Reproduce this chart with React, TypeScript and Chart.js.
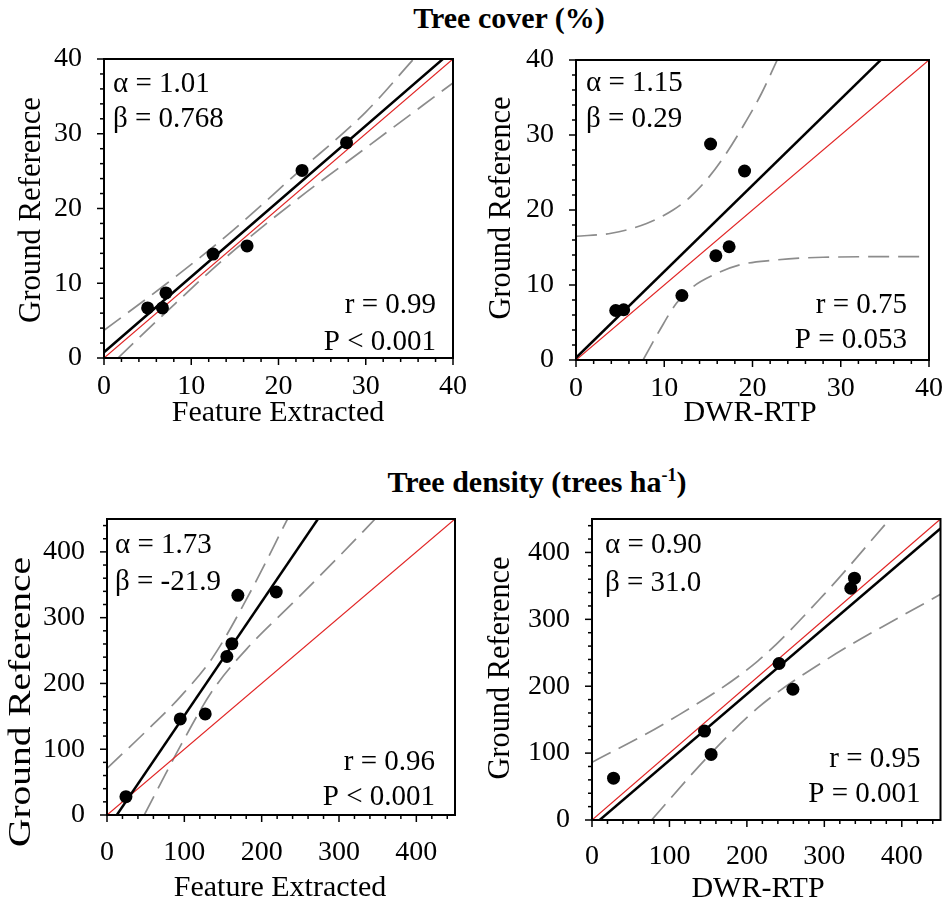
import React, { useEffect, useRef } from 'react';
import { Chart, registerables } from 'chart.js';

Chart.register(...registerables);

const FONT = '"Liberation Serif", "Times New Roman", Times, serif';

// ---------- Data ----------
// Panel 1: Tree cover, Feature Extracted
const coverFeX = [5.0, 6.7, 7.1, 12.5, 16.4, 22.7, 27.8];
const coverFeY = [6.7, 6.7, 8.7, 13.9, 15.0, 25.1, 28.8];
const coverFeFit = { slope: 1.01, intercept: 0.768 };
const coverFeUpperX = [0, 7, 14, 22, 30, 35.5];
const coverFeUpperY = [3.7, 9.8, 16.3, 24.6, 32.9, 40];
const coverFeLowerX = [1.6, 7, 14, 22, 30, 40];
const coverFeLowerY = [0, 6.0, 13.5, 21.1, 28.1, 36.8];

// Panel 2: Tree cover, DWR-RTP
const coverDwX = [4.5, 5.4, 12.0, 15.25, 15.85, 17.35, 19.1];
const coverDwY = [6.6, 6.7, 8.6, 28.8, 13.9, 15.1, 25.2];
const coverDwFit = { slope: 1.15, intercept: 0.29 };
const coverDwUpperX = [0, 4, 8, 11, 13, 15, 17, 19, 21, 22.8];
const coverDwUpperY = [16.5, 16.9, 18.2, 20.0, 21.8, 24.3, 27.5, 31.3, 35.5, 40];
const coverDwLowerX = [7.6, 9.5, 11.4, 13.3, 15.5, 18.6, 22.3, 28, 40];
const coverDwLowerY = [0, 4.0, 7.6, 9.8, 11.3, 12.7, 13.3, 13.7, 13.8];

// Panel 3: Tree density, Feature Extracted
const densFeX = [24.5, 94.7, 127, 155, 161.5, 169.2, 218.8];
const densFeY = [27.9, 146, 153.7, 241, 260.5, 334, 339];
const densFeFit = { slope: 1.73, intercept: -21.9 };
const densFeUpperX = [0, 50, 95, 137, 185, 233.4];
const densFeUpperY = [71, 126.7, 180, 240, 338.3, 450];
const densFeLowerX = [48.2, 95, 137, 185, 240, 300, 346.7];
const densFeLowerY = [0, 105, 190, 258, 322, 393, 450];

// Panel 4: Tree density, DWR-RTP
const densDwX = [27.8, 145.3, 153.8, 241.5, 259.4, 334.2, 338.9];
const densDwY = [62.5, 133, 98, 234, 195.5, 346.5, 361.5];
const densDwFit = { slope: 0.99, intercept: -9.8 };
const densDwUpperX = [0, 100, 214, 300, 384.6];
const densDwUpperY = [86.2, 148.6, 237.6, 337.7, 450];
const densDwLowerX = [76.9, 150, 214, 300, 450];
const densDwLowerY = [0, 95.2, 167.6, 237.7, 337.5];

// Axis ranges / ticks
const coverAxis = { max: 40, major: 10, minor: 2 };
const densAxis = { max: 450, major: 100, minor: 20 };

// Text
const Y_TITLE = 'Ground Reference';
const stats1 = ['α = 1.01', 'β = 0.768', 'r = 0.99', 'P < 0.001'];
const stats2 = ['α = 1.15', 'β = 0.29', 'r = 0.75', 'P = 0.053'];
const stats3 = ['α = 1.73', 'β = -21.9', 'r = 0.96', 'P < 0.001'];
const stats4 = ['α = 0.90', 'β = 31.0', 'r = 0.95', 'P = 0.001'];

const pts = (xs: number[], ys: number[]) => xs.map((x, i) => ({ x, y: ys[i] }));

type Spec = {
  canvas: { x: number; y: number; w: number; h: number };
  pad: { left: number; top: number; right: number };
  yW: number;
  xH: number;
  axis: { max: number; major: number; minor: number };
  xTitle: string;
  xt: { cx: number; cy: number };
  yt: { cx: number; cy: number; size: number; len: number };
  px: number[]; py: number[];
  fit: { slope: number; intercept: number };
  ux: number[]; uy: number[];
  lx: number[]; ly: number[];
  stats: string[];
  txt: { left: number; b1: number; b2: number; right: number; b3: number; b4: number };
  xPad: number;
};

const specs: Spec[] = [
  {
    canvas: { x: 0, y: 40, w: 470, h: 400 }, pad: { left: 17, top: 19, right: 17 }, yW: 87, xH: 82,
    axis: coverAxis, xTitle: 'Feature Extracted', xt: { cx: 278, cy: 413 }, yt: { cx: 32, cy: 210, size: 31, len: 226 },
    px: coverFeX, py: coverFeY, fit: coverFeFit, ux: coverFeUpperX, uy: coverFeUpperY, lx: coverFeLowerX, ly: coverFeLowerY,
    stats: stats1, txt: { left: 9, b1: 33, b2: 68, right: 17, b3: 45, b4: 8 }, xPad: 12,
  },
  {
    canvas: { x: 470, y: 40, w: 477, h: 400 }, pad: { left: 17, top: 20, right: 18 }, yW: 89, xH: 80,
    axis: coverAxis, xTitle: 'DWR-RTP', xt: { cx: 750, cy: 413 }, yt: { cx: 502, cy: 208, size: 31, len: 223 },
    px: coverDwX, py: coverDwY, fit: coverDwFit, ux: coverDwUpperX, uy: coverDwUpperY, lx: coverDwLowerX, ly: coverDwLowerY,
    stats: stats2, txt: { left: 10, b1: 31, b2: 67, right: 22, b3: 47, b4: 12 }, xPad: 12,
  },
  {
    canvas: { x: 0, y: 500, w: 470, h: 405 }, pad: { left: 7, top: 19, right: 15 }, yW: 100, xH: 90,
    axis: densAxis, xTitle: 'Feature Extracted', xt: { cx: 280, cy: 888 }, yt: { cx: 22, cy: 702, size: 31, len: 290 },
    px: densFeX, py: densFeY, fit: densFeFit, ux: densFeUpperX, uy: densFeUpperY, lx: densFeLowerX, ly: densFeLowerY,
    stats: stats3, txt: { left: 8, b1: 34, b2: 71, right: 20, b3: 45, b4: 10 }, xPad: 21,
  },
  {
    canvas: { x: 470, y: 500, w: 477, h: 405 }, pad: { left: 16, top: 19, right: 4 }, yW: 106, xH: 85,
    axis: densAxis, xTitle: 'DWR-RTP', xt: { cx: 758, cy: 889 }, yt: { cx: 501, cy: 668, size: 31, len: 223 },
    px: densDwX, py: densDwY, fit: densDwFit, ux: densDwUpperX, uy: densDwUpperY, lx: densDwLowerX, ly: densDwLowerY,
    stats: stats4, txt: { left: 13, b1: 34, b2: 72, right: 20, b3: 53, b4: 18 }, xPad: 20,
  },
];

const RED = 'rgb(225,35,35)';
const GREY = 'rgb(140,140,140)';

function makeConfig(s: Spec): any {
  const { max, major, minor } = s.axis;
  const fitData = [0, max].map((x) => ({ x, y: s.fit.slope * x + s.fit.intercept }));
  const curve = (data: any[], color: string, width: number, dash: number[]) => ({
    data,
    showLine: true,
    borderColor: color,
    borderWidth: width,
    borderDash: dash,
    pointRadius: 0,
    pointHoverRadius: 0,
    fill: false,
    cubicInterpolationMode: 'monotone',
  });
  const tickCb = (v: any) => (Number(v) % major === 0 ? String(v) : '');
  const zeroPad = (sc: any) => {
    sc.paddingLeft = 0; sc.paddingRight = 0; sc.paddingTop = 0; sc.paddingBottom = 0;
  };
  const decor = {
    id: 'decor',
    afterDraw(chart: any) {
      const { ctx, chartArea: a, scales } = chart;
      const xs = scales.x, ys = scales.y;
      const ox = s.canvas.x, oy = s.canvas.y;
      ctx.save();
      ctx.strokeStyle = '#000';
      ctx.lineWidth = 1.5;
      xs.ticks.forEach((t: any) => {
        const p = xs.getPixelForValue(t.value);
        const len = t.value % major === 0 ? 7 : 4;
        ctx.beginPath(); ctx.moveTo(p, a.bottom); ctx.lineTo(p, a.bottom + len); ctx.stroke();
      });
      ys.ticks.forEach((t: any) => {
        const p = ys.getPixelForValue(t.value);
        const len = t.value % major === 0 ? 7 : 4;
        ctx.beginPath(); ctx.moveTo(a.left, p); ctx.lineTo(a.left - len, p); ctx.stroke();
      });
      ctx.lineWidth = 2;
      ctx.strokeRect(a.left, a.top, a.right - a.left, a.bottom - a.top);
      ctx.fillStyle = '#000';
      ctx.font = `29px ${FONT}`;
      ctx.textBaseline = 'alphabetic';
      ctx.textAlign = 'left';
      ctx.fillText(s.stats[0], a.left + s.txt.left, a.top + s.txt.b1);
      ctx.fillText(s.stats[1], a.left + s.txt.left, a.top + s.txt.b2);
      ctx.textAlign = 'right';
      ctx.fillText(s.stats[2], a.right - s.txt.right, a.bottom - s.txt.b3);
      ctx.fillText(s.stats[3], a.right - s.txt.right, a.bottom - s.txt.b4);
      // x-axis title
      ctx.font = `30px ${FONT}`;
      ctx.textAlign = 'center';
      ctx.textBaseline = 'middle';
      ctx.fillText(s.xTitle, s.xt.cx - ox, s.xt.cy - oy);
      // y-axis title
      ctx.font = `${s.yt.size}px ${FONT}`;
      const w = ctx.measureText(Y_TITLE).width;
      ctx.translate(s.yt.cx - ox, s.yt.cy - oy);
      ctx.rotate(-Math.PI / 2);
      ctx.scale(s.yt.len / w, 1);
      ctx.fillText(Y_TITLE, 0, 0);
      ctx.restore();
    },
  };
  return {
    type: 'scatter',
    data: {
      datasets: [
        { data: pts(s.px, s.py), pointRadius: 6.5, pointHoverRadius: 6.5, backgroundColor: '#000', borderWidth: 0, showLine: false },
        curve(fitData, '#000', 2.5, []),
        curve([{ x: 0, y: 0 }, { x: max, y: max }], RED, 1.2, []),
        curve(pts(s.ux, s.uy), GREY, 1.7, [21, 9]),
        curve(pts(s.lx, s.ly), GREY, 1.7, [21, 9]),
      ],
    },
    options: {
      animation: false,
      responsive: false,
      devicePixelRatio: 1,
      events: [],
      layout: { padding: { left: s.pad.left, top: s.pad.top, right: s.pad.right, bottom: 0 } },
      plugins: { legend: { display: false }, tooltip: { enabled: false }, title: { display: false } },
      scales: {
        x: {
          type: 'linear', min: 0, max,
          border: { display: false },
          grid: { display: false, drawTicks: false },
          ticks: {
            stepSize: minor, autoSkip: false, maxRotation: 0, minRotation: 0, includeBounds: false,
            padding: s.xPad, color: '#000', font: { family: FONT, size: 28, lineHeight: 1.2 }, callback: tickCb,
          },
          title: { display: false },
          afterFit: (sc: any) => { sc.height = s.xH; zeroPad(sc); },
        },
        y: {
          type: 'linear', min: 0, max,
          border: { display: false },
          grid: { display: false, drawTicks: false },
          ticks: {
            stepSize: minor, autoSkip: false, includeBounds: false,
            padding: 22, color: '#000', font: { family: FONT, size: 28, lineHeight: 1.2 }, callback: tickCb,
          },
          title: { display: false },
          afterFit: (sc: any) => { sc.width = s.yW; zeroPad(sc); },
        },
      },
    },
    plugins: [decor],
  };
}

function Panel({ spec }: { spec: Spec }) {
  const ref = useRef<HTMLCanvasElement | null>(null);
  useEffect(() => {
    if (!ref.current) return;
    const chart = new Chart(ref.current, makeConfig(spec));
    return () => chart.destroy();
  }, [spec]);
  const c = spec.canvas;
  return (
    <canvas
      ref={ref}
      width={c.w}
      height={c.h}
      style={{ position: 'absolute', left: c.x, top: c.y, width: c.w, height: c.h, display: 'block' }}
    />
  );
}

export default function App() {
  const titleStyle: React.CSSProperties = {
    position: 'absolute', width: 500, textAlign: 'center', font: `bold 30px ${FONT}`,
    lineHeight: '30px', color: '#000', whiteSpace: 'nowrap',
  };
  return (
    <div style={{ position: 'absolute', left: 0, top: 0, width: 947, height: 905, overflow: 'hidden', background: '#fff' }}>
      <div style={{ ...titleStyle, left: 509 - 250, top: 3 }}>Tree cover (%)</div>
      <div style={{ ...titleStyle, left: 537 - 250, top: 467 }}>
        Tree density (trees ha<span style={{ fontSize: 18, position: 'relative', top: -11 }}>-1</span>)
      </div>
      {specs.map((s, i) => (
        <Panel key={i} spec={s} />
      ))}
    </div>
  );
}
